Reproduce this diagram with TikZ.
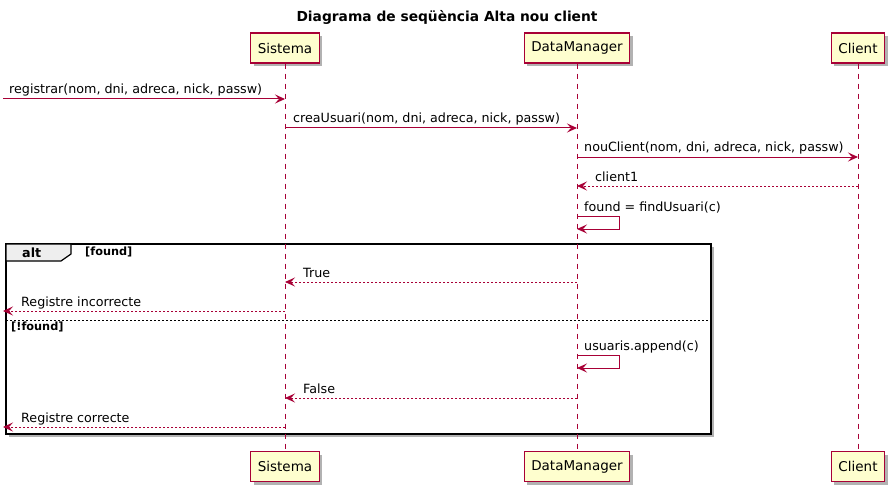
\documentclass[tikz,border=0pt]{standalone}
\usepackage{fontspec}
\setmainfont{DejaVu Sans}
\usetikzlibrary{arrows.meta,shadows}
\definecolor{pline}{HTML}{A80036}
\definecolor{pfill}{HTML}{FEFECE}
\definecolor{tabfill}{HTML}{EEEEEE}
\tikzset{
  part/.style={draw=pline, fill=pfill, line width=1.3pt, minimum height=30pt, inner xsep=7pt, inner ysep=0pt,
    font=\fontsize{13.5}{16}\selectfont, drop shadow={shadow xshift=3pt, shadow yshift=-3pt, opacity=0.3, fill=black}},
  life/.style={draw=pline, line width=0.9pt, dash pattern=on 5pt off 5pt},
  msg/.style={draw=pline, line width=1pt, -{Stealth[length=10pt, width=9pt, inset=4pt]}},
  ret/.style={draw=pline, line width=0.9pt, dash pattern=on 2pt off 2pt, -{Stealth[length=10pt, width=9pt, inset=4pt]}},
  lbl/.style={anchor=base west, inner sep=0pt, font=\fontsize{12.7}{15}\selectfont},
  guard/.style={anchor=base west, inner sep=0pt, font=\bfseries\fontsize{11.3}{13}\selectfont},
}
\begin{document}
\begin{tikzpicture}[x=1pt, y=-1pt]
\useasboundingbox (0,0) rectangle (894,492);
% title
\node[inner sep=0pt, anchor=base, font=\bfseries\fontsize{13.8}{16}\selectfont] (title) at (447,22) {Diagrama de seqüència Alta nou client};
% participants
\node[part] (s1) at (285,48) {Sistema};
\node[part] (d1) at (577,48) {DataManager};
\node[part] (c1) at (858,48) {Client};
\node[part] (s2) at (285,466.5) {Sistema};
\node[part] (d2) at (577,466.5) {DataManager};
\node[part] (c2) at (858,466.5) {Client};
% alt frame
\draw[line width=1.6pt, fill=white, drop shadow={shadow xshift=3pt, shadow yshift=-3pt, opacity=0.3, fill=black}] (6,244) rectangle (711,434);
\draw[line width=1.2pt, fill=tabfill] (6,244) -- (71,244) -- (71,254) -- (61,261) -- (6,261) -- cycle;
\node[inner sep=0pt, anchor=base west, font=\bfseries\fontsize{12.7}{15}\selectfont] (alt) at (22,257) {alt};
\node[guard] (g1) at (85,255.5) {[found]};
\draw[line width=0.7pt, dash pattern=on 2pt off 2pt] (6,320) -- (711,320);
\node[guard] (g2) at (11,330.5) {[!found]};
% lifelines
\draw[life] (s1.south) -- (s2.north);
\draw[life] (d1.south) -- (d2.north);
\draw[life] (c1.south) -- (c2.north);
% coordinates
\coordinate (e1) at (3,99);   \coordinate (s99) at (285,99);
\coordinate (s128) at (285,128); \coordinate (d128) at (577,128);
\coordinate (d157) at (577,157); \coordinate (c157) at (858,157);
\coordinate (c186) at (858,186); \coordinate (d186) at (577,186);
\coordinate (d216) at (577,216); \coordinate (d229) at (577,229);
\coordinate (d282) at (577,282); \coordinate (s282) at (285,282);
\coordinate (s311) at (285,311); \coordinate (e2) at (3,311);
\coordinate (d355) at (577,355); \coordinate (d368) at (577,368);
\coordinate (d398) at (577,398); \coordinate (s398) at (285,398);
\coordinate (s427) at (285,427); \coordinate (e3) at (3,427);
% messages
\draw[msg] (e1) -- (s99);
\node[lbl] (m1) at (9,94) {registrar(nom, dni, adreca, nick, passw)};
\draw[msg] (s128) -- (d128);
\node[lbl] (m2) at (293,123) {creaUsuari(nom, dni, adreca, nick, passw)};
\draw[msg] (d157) -- (c157);
\node[lbl] (m3) at (584,152) {nouClient(nom, dni, adreca, nick, passw)};
\draw[ret] (c186) -- (d186);
\node[lbl] (m4) at (595,181) {client1};
\draw[msg] (d216) -- (619,216) -- (619,229) -- (d229);
\node[lbl] (m5) at (584,211) {found = findUsuari(c)};
\draw[ret] (d282) -- (s282);
\node[lbl] (m6) at (303,277) {True};
\draw[ret] (s311) -- (e2);
\node[lbl] (m7) at (21,306) {Registre incorrecte};
\draw[msg] (d355) -- (619,355) -- (619,368) -- (d368);
\node[lbl] (m8) at (584,350) {usuaris.append(c)};
\draw[ret] (d398) -- (s398);
\node[lbl] (m9) at (303,393) {False};
\draw[ret] (s427) -- (e3);
\node[lbl] (m10) at (21,422) {Registre correcte};
\end{tikzpicture}
\end{document}
